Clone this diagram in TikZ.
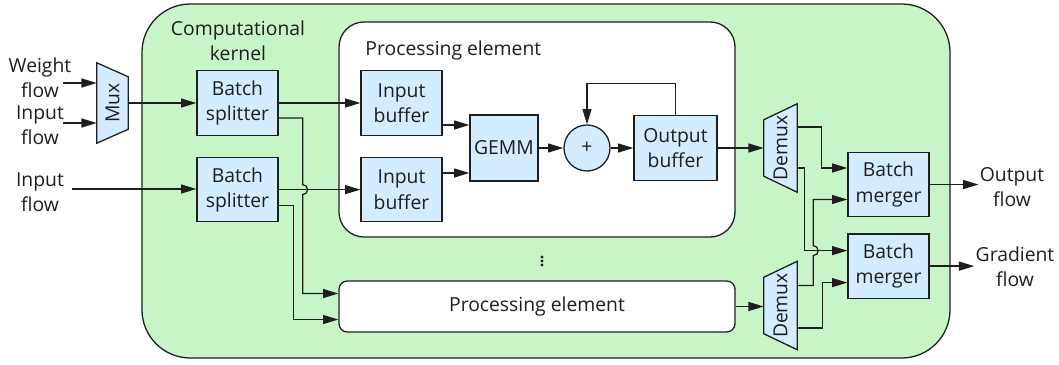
\documentclass[tikz,border=0pt]{standalone}
\usepackage{fontspec}
\setmainfont{Open Sans}
\usetikzlibrary{arrows.meta, positioning, calc}
\definecolor{kernelgreen}{RGB}{200, 245, 200}
\definecolor{unitblue}{RGB}{212, 236, 255}
\definecolor{edgegray}{RGB}{30, 30, 30}

\begin{document}
\begin{tikzpicture}[
  x=0.03cm, y=-0.03cm,
  every node/.style={font=\fontsize{16.5}{21.5}\selectfont, text=edgegray},
  kernel/.style={draw=edgegray, fill=kernelgreen, line width=1.1pt, rounded corners=1.45cm, minimum width=24.24cm, minimum height=10.62cm},
  pebox/.style={draw=edgegray, fill=white, line width=1.1pt, minimum width=11.88cm},
  unit/.style={draw=edgegray, fill=unitblue, line width=1.1pt, minimum width=2.43cm, minimum height=1.93cm, align=center, inner sep=0pt},
  trap/.style={draw=edgegray, fill=unitblue, line width=1.1pt, line join=miter},
  flowtext/.style={align=center, inner sep=1pt},
  arrow/.style={-{Triangle[length=4.6mm, width=2.7mm]}, line width=1.1pt, draw=edgegray},
  node distance=0.63cm
]
  \useasboundingbox (0,0) rectangle (1059,365);

  % kernel and the two processing elements
  \node[kernel] (kernel) at (546,181) {};
  \node[anchor=center, align=center] (klabel) at (238,41) {Computational\\kernel};
  \node[pebox, rounded corners=0.75cm, minimum height=6.45cm] (pe1) at (537,129.5) {};
  \node[anchor=west] (pe1label) at ($(pe1.north west)+(23,29)$) {Processing element};
  \node[pebox, rounded corners=0.25cm, minimum height=1.53cm] (pe2) at (537,306.5) {Processing element};
  \foreach \dy in {-4,0,4}
    \fill[edgegray] (542,261+\dy) circle (1.4pt);

  % inputs and mux
  \node[flowtext] (wflow) at (40,77.5) {Weight\\flow};
  \node[flowtext] (i1flow) at (40,125.5) {Input\\flow};
  \node[flowtext] (i2flow) at (40,192) {Input\\flow};
  \node[minimum width=0.93cm, minimum height=2.4cm, inner sep=0pt] (mux) at (112.5,103) {};
  \draw[trap] (mux.north west) -- ($(mux.north east)+(0,14)$) -- ($(mux.south east)+(0,-14)$) -- (mux.south west) -- cycle;
  \node[rotate=90] at (mux) {Mux};

  \node[unit] (split1) at (237.5,103) {Batch\\splitter};
  \node[unit, below=of split1] (split2) {Batch\\splitter};

  % inside the processing element
  \node[unit] (buf1) at (401.5,103) {Input\\buffer};
  \node[unit, below=of buf1] (buf2) {Input\\buffer};
  \node[unit, minimum width=2.04cm, minimum height=1.98cm] (gemm) at (504,148) {GEMM};
  \node[unit, circle, minimum size=1.38cm] (add) at (587,148) {+};
  \node[unit, minimum width=2.49cm] (obuf) at (675.5,148) {Output\\buffer};

  % demuxes and mergers
  \node[minimum width=0.99cm, minimum height=2.64cm, inner sep=0pt] (dmx1) at (780.5,148) {};
  \draw[trap] (dmx1.north east) -- (dmx1.south east) -- ($(dmx1.south west)+(0,-16)$) -- ($(dmx1.north west)+(0,16)$) -- cycle;
  \node[rotate=90] at (dmx1) {Demux};
  \node[minimum width=0.99cm, minimum height=2.64cm, inner sep=0pt] (dmx2) at (780.5,305.5) {};
  \draw[trap] (dmx2.north east) -- (dmx2.south east) -- ($(dmx2.south west)+(0,-16)$) -- ($(dmx2.north west)+(0,16)$) -- cycle;
  \node[rotate=90] at (dmx2) {Demux};

  \node[unit] (merge1) at (888.5,184.5) {Batch\\merger};
  \node[unit, below=0.48cm of merge1] (merge2) {Batch\\merger};
  \node[flowtext] (oflow) at (1012,187) {Output\\flow};
  \node[flowtext] (gflow) at (1015,267) {Gradient\\flow};

  % connectors
  \coordinate (w-in) at (63,83);
  \coordinate (i1-in) at (63,123);
  \coordinate (i2-in) at (72,189);
  \draw[arrow] (w-in) -- (w-in -| mux.west);
  \draw[arrow] (i1-in) -- (i1-in -| mux.west);
  \draw[arrow] (i2-in) -- (i2-in -| split2.west);
  \draw[arrow] (mux.east) -- (split1.west);

  \draw[arrow] (split1.east) -- (split1.east -| buf1.west);
  \draw[arrow] (split2.east) -- (split2.east -| buf2.west);

  \coordinate (tapA) at ($(split1.east)+(24,15)$);
  \coordinate (tapB) at ($(split2.east)+(15,16)$);
  \coordinate (pe2in1) at ($(pe2.west)+(0,-13)$);
  \coordinate (pe2in2) at ($(pe2.west)+(0,13)$);
  \draw[arrow] ($(split1.east)+(0,15)$) -- (tapA) -- ($(tapA |- split2.east)+(0,-5)$)
    arc[start angle=-90, end angle=90, radius=5] -- (tapA |- pe2in1) -- (pe2in1);
  \draw[arrow] ($(split2.east)+(0,16)$) -- (tapB) -- (tapB |- pe2in2) -- (pe2in2);

  \coordinate (g-in1) at ($(gemm.west)+(0,-23)$);
  \coordinate (g-in2) at ($(gemm.west)+(0,25)$);
  \draw[arrow] (g-in1 -| buf1.east) -- (g-in1);
  \draw[arrow] (g-in2 -| buf2.east) -- (g-in2);
  \draw[arrow] (gemm) -- (add);
  \draw[arrow] (add) -- (obuf);
  \draw[arrow] (obuf.north) |- ($(add.north)+(0,-41)$) -- (add.north);

  \draw[arrow] (obuf.east) -- (dmx1.west);
  \draw[arrow] (pe2.east) -- (pe2.east -| dmx2.west);

  \coordinate (m1in1) at ($(merge1.west)+(0,-16.5)$);
  \coordinate (m1in2) at ($(merge1.west)+(0,15)$);
  \coordinate (m2in1) at ($(merge2.west)+(0,-15.5)$);
  \coordinate (m2in2) at ($(merge2.west)+(0,16.5)$);
  \coordinate (tapC) at ($(dmx2.east)+(16,-20)$);
  \draw[arrow] ($(dmx1.east)+(0,-21)$) -| ($(m1in1)+(-26,0)$) -- (m1in1);
  \draw[arrow] ($(dmx1.east)+(0,20)$) -| ($(m2in1)+(-43,0)$) -- (m2in1);
  \draw[arrow] ($(dmx2.east)+(0,-20)$) -- (tapC) -- ($(tapC |- m2in1)+(0,5)$)
    arc[start angle=90, end angle=-90, radius=5] -- (tapC |- m1in2) -- (m1in2);
  \draw[arrow] ($(dmx2.east)+(0,22.5)$) -| ($(m2in2)+(-25,0)$) -- (m2in2);

  \draw[arrow] (merge1.east) -- (merge1.east -| oflow.west);
  \draw[arrow] (merge2.east) -- (merge2.east -| gflow.west);
\end{tikzpicture}
\end{document}
